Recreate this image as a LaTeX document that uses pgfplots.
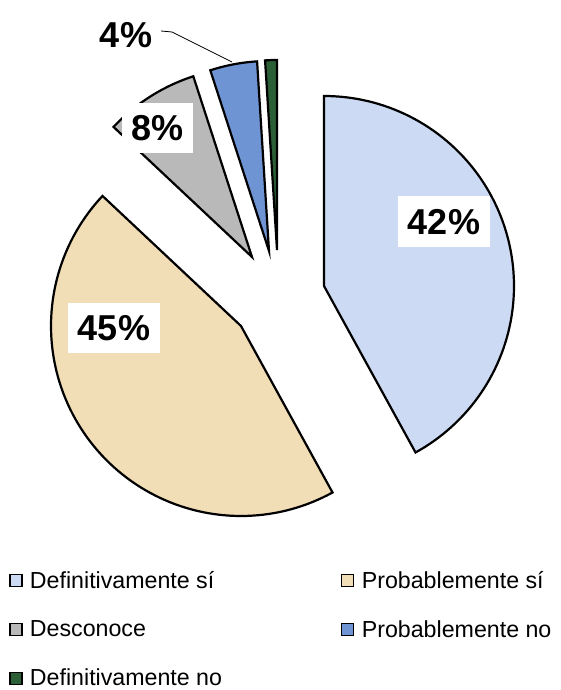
\documentclass[border=0pt]{standalone}
\usepackage{fontspec}
\setmainfont{Liberation Sans}
\usepackage{pgfplots}
\pgfplotsset{compat=1.18}
\definecolor{cA}{HTML}{CCDAF3}
\definecolor{cB}{HTML}{F1DDB6}
\definecolor{cC}{HTML}{B9B9B9}
\definecolor{cD}{HTML}{6E94D4}
\definecolor{cE}{HTML}{2B5F35}
\begin{document}
\begin{tikzpicture}
\begin{axis}[
  hide axis, scale only axis, width=560pt, height=690pt,
  xmin=0, xmax=560, ymin=0, ymax=690, clip=false,
  legend columns=2, legend cell align=left,
  legend image code/.code={\draw[#1, line width=1.3pt] (0pt,-6pt) rectangle (12pt,6pt); \path (17pt,0pt);},
  legend style={at={(axis cs:6,123)}, anchor=north west, draw=none, fill=none,
    font=\fontsize{23.2}{27}\selectfont, row sep=26.5pt,
    /tikz/every even column/.append style={column sep=117pt},
    /tikz/every odd column/.append style={column sep=0pt}},
]
% values: 42, 45, 8, 4, 1 (percent), clockwise from 12 o'clock
\addplot[fill=cA, draw=black, line width=2.2pt, domain=-61.2:90, samples=91, variable=\t]
  ({324+190*cos(\t)},{404+190*sin(\t)}) -- (axis cs:324,404) -- cycle;
\addlegendentry{Definitivamente sí}
\addplot[fill=cB, draw=black, line width=2.2pt, domain=-223.2:-61.2, samples=97, variable=\t]
  ({241+190*cos(\t)},{364+190*sin(\t)}) -- (axis cs:241,364) -- cycle;
\addlegendentry{Probablemente sí}
\addplot[fill=cC, draw=black, line width=2.2pt, domain=-252:-223.2, samples=21, variable=\t]
  ({252+190*cos(\t)},{433+190*sin(\t)}) -- (axis cs:252,433) -- cycle;
\addlegendentry{Desconoce}
\addplot[fill=cD, draw=black, line width=2.2pt, domain=-266.4:-252, samples=11, variable=\t]
  ({269+190*cos(\t)},{439+190*sin(\t)}) -- (axis cs:269,439) -- cycle;
\addlegendentry{Probablemente no}
\addplot[fill=cE, draw=black, line width=2.2pt, domain=-270:-266.4, samples=5, variable=\t]
  ({277+190*cos(\t)},{440+190*sin(\t)}) -- (axis cs:277,440) -- cycle;
\addlegendentry{Definitivamente no}

\node[fill=white, inner xsep=10pt, minimum height=51pt, font=\fontsize{36}{36}\selectfont\bfseries] at (axis cs:444,468) {42\%};
\node[fill=white, inner xsep=10pt, minimum height=50pt, font=\fontsize{36}{36}\selectfont\bfseries] at (axis cs:114,362) {45\%};
\node[fill=white, inner xsep=9pt, minimum height=50pt, font=\fontsize{36}{36}\selectfont\bfseries] at (axis cs:157.5,562) {8\%};
\node[inner sep=0pt, font=\fontsize{36}{36}\selectfont\bfseries] at (axis cs:126,655) {4\%};
\draw[black, line width=0.8pt] (axis cs:161,659) -- (axis cs:172,658) -- (axis cs:232,628);
\end{axis}
\pgfresetboundingbox
\path (0,0) rectangle (560pt,690pt);
\end{tikzpicture}
\end{document}
